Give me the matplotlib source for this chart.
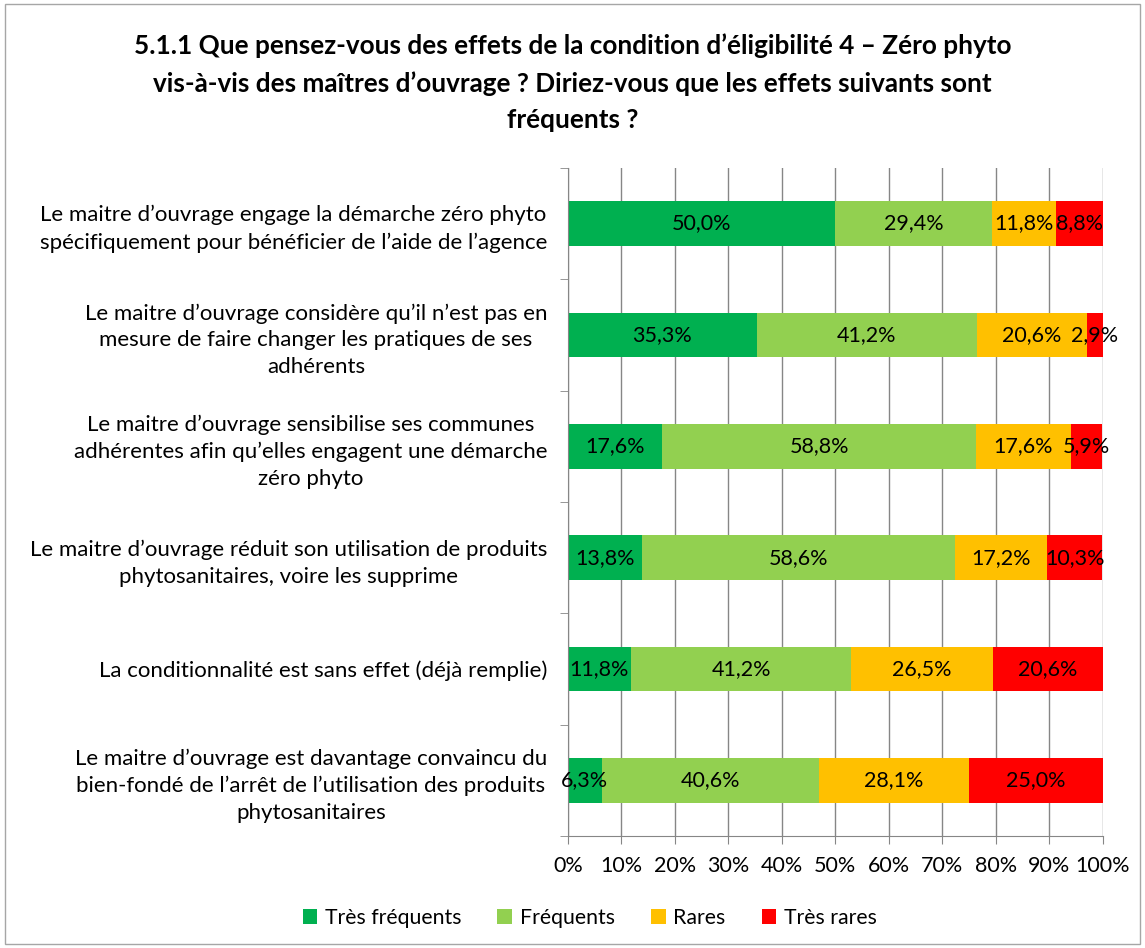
import matplotlib.pyplot as plt
from matplotlib.patches import Rectangle

plt.rcParams['font.family'] = ['Lato', 'DejaVu Sans']

categories = [
    "Le maitre d\u2019ouvrage engage la démarche zéro phyto\nspécifiquement pour bénéficier de l\u2019aide de l\u2019agence",
    "Le maitre d\u2019ouvrage considère qu\u2019il n\u2019est pas en\nmesure de faire changer les pratiques de ses\nadhérents",
    "Le maitre d\u2019ouvrage sensibilise ses communes\nadhérentes afin qu\u2019elles engagent une démarche\nzéro phyto",
    "Le maitre d\u2019ouvrage réduit son utilisation de produits\nphytosanitaires, voire les supprime",
    "La conditionnalité est sans effet (déjà remplie)",
    "Le maitre d\u2019ouvrage est davantage convaincu du\nbien-fondé de l\u2019arrêt de l\u2019utilisation des produits\nphytosanitaires",
]
series_names = ["Très fréquents", "Fréquents", "Rares", "Très rares"]
tres_frequents = [50.0, 35.3, 17.6, 13.8, 11.8, 6.3]
frequents = [29.4, 41.2, 58.8, 58.6, 41.2, 40.6]
rares = [11.8, 20.6, 17.6, 17.2, 26.5, 28.1]
tres_rares = [8.8, 2.9, 5.9, 10.3, 20.6, 25.0]
colors = ["#00B050", "#92D050", "#FFC000", "#FF0000"]

title = ("5.1.1 Que pensez-vous des effets de la condition d\u2019éligibilité 4 \u2013 Zéro phyto\n"
         "vis-à-vis des maîtres d\u2019ouvrage ? Diriez-vous que les effets suivants sont\n"
         "fréquents ?")

fig = plt.figure(figsize=(11.45, 9.48), dpi=100)
fig.patches.append(Rectangle((0.004, 0.004), 0.992, 0.992, transform=fig.transFigure,
                             fill=False, edgecolor="#A6A6A6", linewidth=1))
ax = fig.add_axes([0.496, 0.118, 0.467, 0.705])

values = [tres_frequents, frequents, rares, tres_rares]
ypos = list(range(len(categories)))
left = [0.0] * len(categories)
for name, vals, col in zip(series_names, values, colors):
    ax.barh(ypos, vals, left=left, height=0.4, color=col, label=name, zorder=2)
    for y, l, v in zip(ypos, left, vals):
        ax.text(l + v / 2, y, ("%.1f%%" % v).replace(".", ","), ha="center", va="center",
                fontsize=15.5, color="black", zorder=3)
    left = [a + b for a, b in zip(left, vals)]

ax.set_xlim(0, 100)
ax.set_ylim(len(categories) - 0.5, -0.5)
ax.set_xticks(range(0, 101, 10))
ax.set_xticklabels(["%d%%" % t for t in range(0, 101, 10)], fontsize=15.5)
ax.set_yticks(ypos)
ax.set_yticklabels(categories, fontsize=16, linespacing=1.42)
for lab in ax.get_yticklabels():
    lab.set_multialignment("center")
ax.tick_params(axis="y", length=0, pad=15)
ax.set_yticks([i - 0.5 for i in range(len(categories) + 1)], minor=True)
ax.tick_params(axis="y", which="minor", length=6, color="#868686", direction="out")
ax.tick_params(axis="x", length=6, color="#868686", pad=8)
ax.xaxis.grid(True, color="#868686", linewidth=1, zorder=0)
for side in ["top", "right"]:
    ax.spines[side].set_visible(False)
ax.spines["left"].set_color("#868686")
ax.spines["bottom"].set_color("#868686")

fig.text(0.5, 0.965, title, ha="center", va="top", fontsize=18.8, fontweight="bold",
         linespacing=1.62)
fig.legend(loc="center", bbox_to_anchor=(0.515, 0.032), ncol=4, frameon=False, fontsize=15.3,
           handlelength=0.7, handleheight=0.7, handletextpad=0.35, columnspacing=1.7)

fig.savefig("out.png", dpi=100)
